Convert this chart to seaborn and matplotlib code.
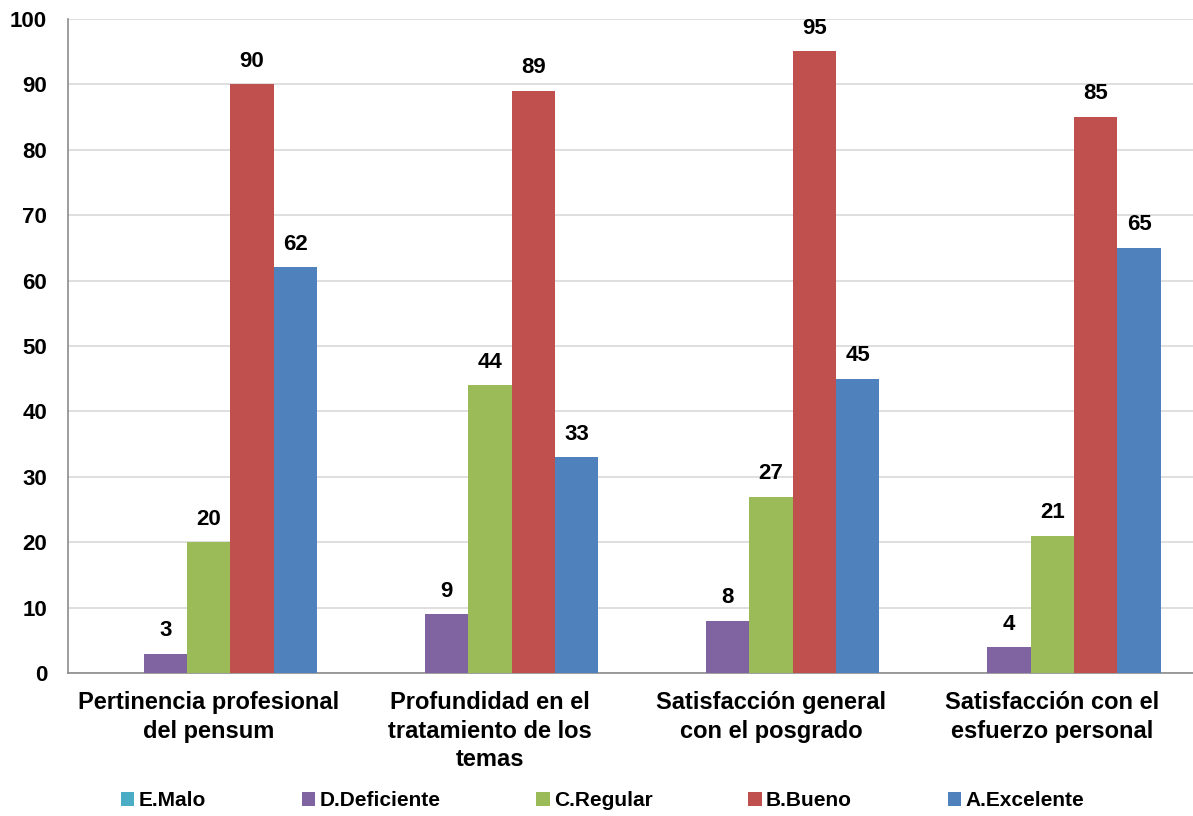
import matplotlib
matplotlib.use("Agg")
import matplotlib.pyplot as plt
import numpy as np
import pandas as pd
import seaborn as sns

categories = ["Pertinencia profesional\ndel pensum",
              "Profundidad en el\ntratamiento de los\ntemas",
              "Satisfacción general\ncon el posgrado",
              "Satisfacción con el\nesfuerzo personal"]
series = ["E.Malo", "D.Deficiente", "C.Regular", "B.Bueno", "A.Excelente"]
malo = [0, 0, 0, 0]
deficiente = [3, 9, 8, 4]
regular = [20, 44, 27, 21]
bueno = [90, 89, 95, 85]
excelente = [62, 33, 45, 65]
colors = ["#4BACC6", "#8064A2", "#9BBB59", "#C0504D", "#4F81BD"]

rows = []
for name, vals in zip(series, [malo, deficiente, regular, bueno, excelente]):
    for cat, v in zip(categories, vals):
        rows.append({"categoria": cat, "serie": name, "valor": v})
df = pd.DataFrame(rows)

sns.set_style("white")
plt.rcParams["font.family"] = ["Liberation Sans", "DejaVu Sans"]
plt.rcParams["font.weight"] = "bold"
plt.rcParams["text.color"] = "black"
plt.rcParams["xtick.labelcolor"] = "black"
plt.rcParams["ytick.labelcolor"] = "black"

fig = plt.figure(figsize=(11.93, 8.16), dpi=100)
ax = fig.add_axes([0.057, 0.175, 0.943, 0.802])

sns.barplot(data=df, x="categoria", y="valor", hue="serie", hue_order=series,
            palette=colors, width=0.77, saturation=1, linewidth=0, ax=ax, zorder=3)

for cont in ax.containers:
    labels = [f"{v:.0f}" if v > 0 else "" for v in cont.datavalues]
    ax.bar_label(cont, labels=labels, padding=9, fontsize=16, fontweight="bold",
                 color="black")

ax.set_ylim(0, 100)
ax.set_xlim(-0.5, 3.5)
ax.set_yticks(np.arange(0, 101, 10))
ax.yaxis.grid(True, color="#d9d9d9", linewidth=1.2, zorder=0)
ax.set_axisbelow(True)
ax.set_xlabel("")
ax.set_ylabel("")

for s in ["top", "right"]:
    ax.spines[s].set_visible(False)
for s in ["left", "bottom"]:
    ax.spines[s].set_color("#8c8c8c")
    ax.spines[s].set_linewidth(1.2)

ax.tick_params(axis="y", length=5, width=1.2, color="#8c8c8c", pad=10, labelsize=16,
               labelcolor="black")
ax.set_xticks(np.arange(-0.5, 4, 1), minor=True)
ax.tick_params(axis="x", which="minor", length=7, width=1.2, color="#8c8c8c")
ax.tick_params(axis="x", which="major", length=0, pad=13, labelsize=17,
               labelcolor="black")
for lbl in ax.get_xticklabels():
    lbl.set_linespacing(1.3)
    lbl.set_verticalalignment("top")
for lbl in ax.get_yticklabels() + ax.get_xticklabels():
    lbl.set_fontweight("bold")

handles, labels = ax.get_legend_handles_labels()
ax.get_legend().remove()
leg = fig.legend(handles, labels, loc="center", bbox_to_anchor=(0.505, 0.019), ncol=5,
                 frameon=False, handlelength=0.65, handleheight=0.65,
                 handletextpad=0.2, columnspacing=4.6,
                 prop={"weight": "bold", "size": 15})
for t in leg.get_texts():
    t.set_color("black")

fig.savefig("out.png", dpi=100)
